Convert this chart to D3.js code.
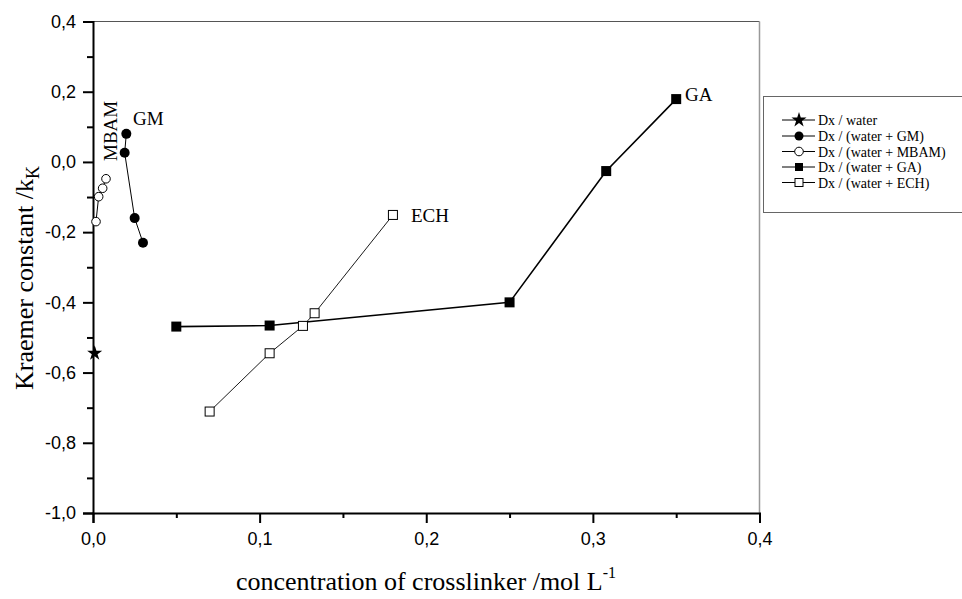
<!DOCTYPE html>
<html><head><meta charset="utf-8">
<script src="https://cdn.jsdelivr.net/npm/d3@7"></script>
<style>body{margin:0;background:#fff;} svg{display:block;}</style>
</head><body><svg id="c" width="962" height="599"></svg>
<script>
// ---- data ----
const waterX = [0.001];
const waterY = [-0.545];
const gmX = [0.020, 0.019, 0.025, 0.030];
const gmY = [0.080, 0.026, -0.160, -0.230];
const mbamX = [0.0018, 0.0034, 0.0058, 0.0078];
const mbamY = [-0.170, -0.099, -0.075, -0.048];
const gaX = [0.050, 0.106, 0.250, 0.308, 0.350];
const gaY = [-0.469, -0.466, -0.400, -0.026, 0.179];
const echX = [0.070, 0.106, 0.126, 0.133, 0.180];
const echY = [-0.711, -0.545, -0.467, -0.431, -0.151];
const xTicks = [0.0, 0.1, 0.2, 0.3, 0.4];
const xMinor = [0.05, 0.15, 0.25, 0.35];
const yTicks = [-1.0, -0.8, -0.6, -0.4, -0.2, 0.0, 0.2, 0.4];
const yMinor = [-0.9, -0.7, -0.5, -0.3, -0.1, 0.1, 0.3];
const legendLabels = ["Dx / water", "Dx / (water + GM)", "Dx / (water + MBAM)", "Dx / (water + GA)", "Dx / (water + ECH)"];

const svg = d3.select("#c");
const L = 93, R = 759.5, T = 21.5, B = 513;
const x = d3.scaleLinear().domain([0, 0.4]).range([L, R]);
const y = d3.scaleLinear().domain([-1.0, 0.4]).range([B, T]);
const fmt = d => d3.format(".1f")(d).replace(".", ",").replace("−", "-");
const sans = "'Liberation Sans', Arial, sans-serif";
const serif = "'Liberation Serif', 'Times New Roman', serif";

// frame (top & right)
svg.append("line").attr("x1", L).attr("x2", R).attr("y1", T).attr("y2", T)
  .attr("stroke", "#555").attr("stroke-width", 1);
svg.append("line").attr("x1", R).attr("x2", R).attr("y1", T).attr("y2", B)
  .attr("stroke", "#999").attr("stroke-width", 1.5);

// axes
const gx = svg.append("g").attr("transform", `translate(0,${B})`)
  .call(d3.axisBottom(x).tickValues(xTicks).tickFormat(fmt).tickSize(10).tickPadding(9));
const gxm = svg.append("g").attr("transform", `translate(0,${B})`)
  .call(d3.axisBottom(x).tickValues(xMinor).tickFormat("").tickSize(5));
const gy = svg.append("g").attr("transform", `translate(${L},0)`)
  .call(d3.axisLeft(y).tickValues(yTicks).tickFormat(fmt).tickSize(10).tickPadding(7));
const gym = svg.append("g").attr("transform", `translate(${L},0)`)
  .call(d3.axisLeft(y).tickValues(yMinor).tickFormat("").tickSize(6));
[gx, gxm, gy, gym].forEach(g => {
  g.select(".domain").attr("stroke", "#000").attr("stroke-width", 2);
  g.selectAll(".tick line").attr("stroke", "#000").attr("stroke-width", 2);
  g.selectAll(".tick text").attr("font-family", sans).attr("font-size", 18).attr("fill", "#000");
});
gym.select(".domain").remove(); gxm.select(".domain").remove();

// axis titles
const xt = svg.append("text").attr("x", 426).attr("y", 590).attr("text-anchor", "middle")
  .attr("font-family", serif).attr("font-size", 26).attr("fill", "#000");
xt.append("tspan").text("concentration of crosslinker /mol L");
xt.append("tspan").attr("dy", -12).attr("font-size", 16).text("-1");

const yt = svg.append("text").attr("transform", "translate(33,278) rotate(-90)")
  .attr("text-anchor", "middle").attr("font-family", serif).attr("font-size", 26).attr("fill", "#000");
yt.append("tspan").text("Kraemer constant /k");
yt.append("tspan").attr("dy", 6).attr("font-size", 18).text("K");

// markers
const star = d3.symbol().type(d3.symbolStar).size(70)();
function marker(g, type, cx, cy, s) {
  if (type === "star") {
    g.append("path").attr("d", star).attr("transform", `translate(${cx},${cy})`).attr("fill", "#000");
  } else if (type === "fcircle") {
    g.append("circle").attr("cx", cx).attr("cy", cy).attr("r", s || 5).attr("fill", "#000");
  } else if (type === "ocircle") {
    g.append("circle").attr("cx", cx).attr("cy", cy).attr("r", s || 4.3).attr("fill", "#fff").attr("stroke", "#000").attr("stroke-width", 1);
  } else if (type === "fsquare") {
    const h = s || 5;
    g.append("rect").attr("x", cx - h).attr("y", cy - h).attr("width", 2 * h).attr("height", 2 * h).attr("fill", "#000");
  } else if (type === "osquare") {
    const h = s || 4.5;
    g.append("rect").attr("x", cx - h).attr("y", cy - h).attr("width", 2 * h).attr("height", 2 * h).attr("fill", "#fff").attr("stroke", "#000").attr("stroke-width", 1);
  }
}

const series = [
  {xs: waterX, ys: waterY, type: "star", lw: 1},
  {xs: gmX, ys: gmY, type: "fcircle", lw: 1},
  {xs: mbamX, ys: mbamY, type: "ocircle", lw: 1},
  {xs: gaX, ys: gaY, type: "fsquare", lw: 1.6},
  {xs: echX, ys: echY, type: "osquare", lw: 0.9}
];
const line = d3.line().x(d => x(d[0])).y(d => y(d[1]));
series.forEach(s => {
  const pts = s.xs.map((v, i) => [v, s.ys[i]]);
  const g = svg.append("g");
  if (pts.length > 1) g.append("path").attr("d", line(pts)).attr("fill", "none").attr("stroke", "#000").attr("stroke-width", s.lw);
  pts.forEach(p => marker(g, s.type, x(p[0]), y(p[1])));
});

// point labels
const lab = (t, px, py) => svg.append("text").attr("x", px).attr("y", py).attr("font-family", serif).attr("font-size", 19).attr("fill", "#000").text(t);
lab("GM", 133, 125);
lab("GA", 685, 101);
lab("ECH", 411, 222);
svg.append("text").attr("transform", "translate(117,161) rotate(-90)").attr("font-family", serif)
  .attr("font-size", 19).attr("fill", "#000").text("MBAM");

// legend
svg.append("rect").attr("x", 763.5).attr("y", 96.5).attr("width", 210).attr("height", 116)
  .attr("fill", "#fff").attr("stroke", "#666").attr("stroke-width", 1);
const legY = [120, 136, 151.5, 167, 182.5];
series.forEach((s, i) => {
  const g = svg.append("g");
  g.append("line").attr("x1", 782).attr("x2", 815).attr("y1", legY[i]).attr("y2", legY[i]).attr("stroke", "#000").attr("stroke-width", 1);
  marker(g, s.type, 799, legY[i], s.type === "fcircle" ? 4.5 : (s.type.includes("square") ? 4 : (s.type === "ocircle" ? 4.3 : null)));
  g.append("text").attr("x", 818).attr("y", legY[i] + 5).attr("font-family", serif).attr("font-size", 14).attr("fill", "#000").text(legendLabels[i]);
});
</script>
</body></html>
